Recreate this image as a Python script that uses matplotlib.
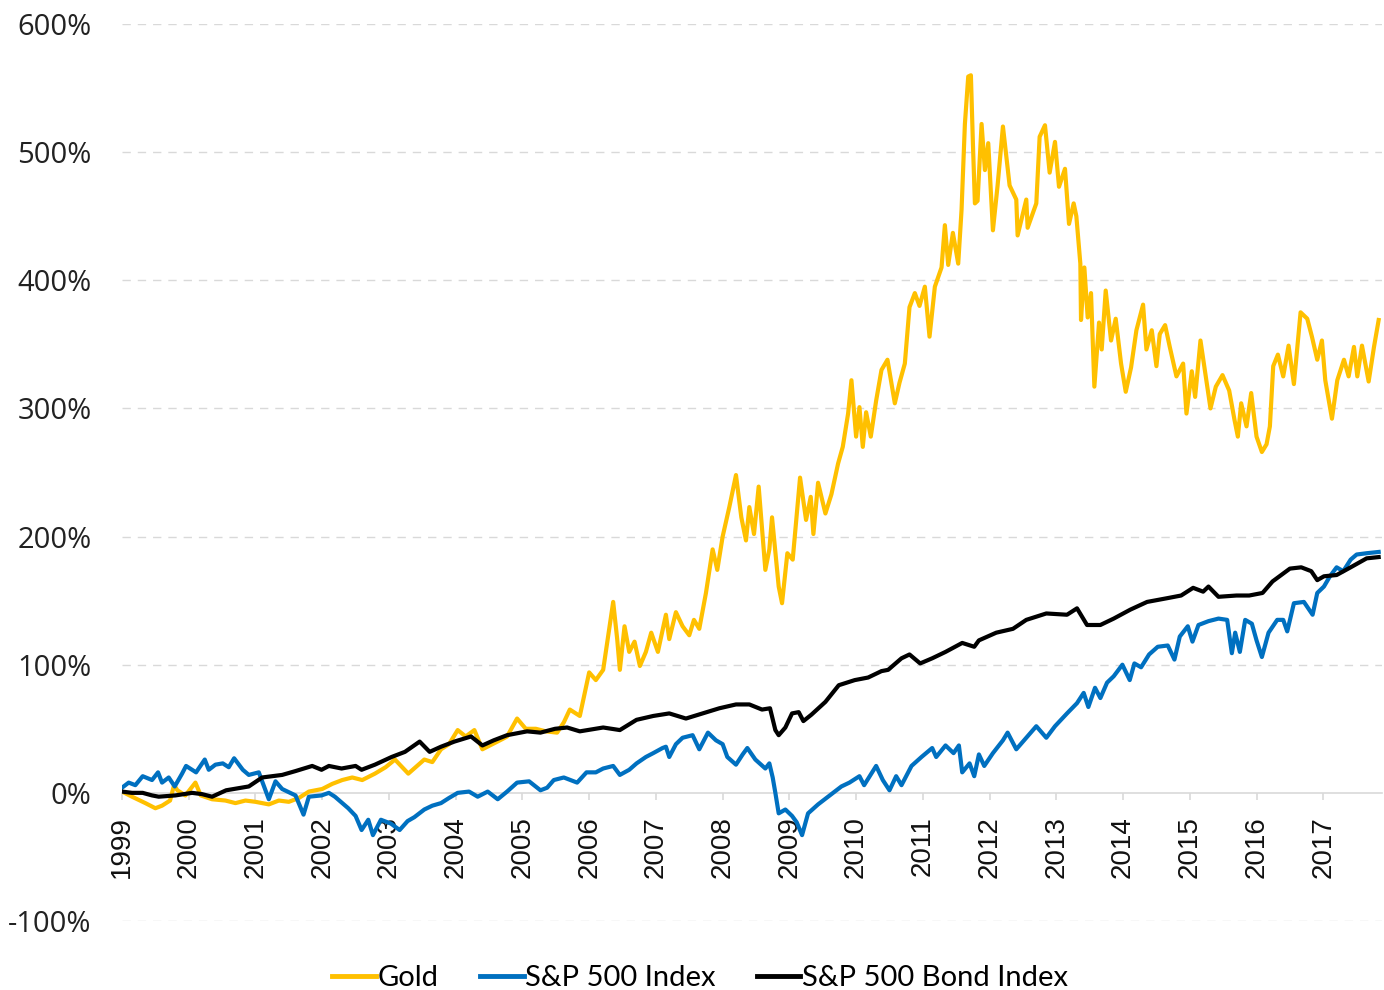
import matplotlib
matplotlib.use("Agg")
import matplotlib.pyplot as plt
from matplotlib.ticker import FuncFormatter, FixedLocator

# ---------------- data ----------------
gold_t = [1999.00, 1999.15, 1999.35, 1999.5, 1999.6, 1999.72, 1999.78, 1999.83, 1999.95, 2000.1,
          2000.18, 2000.35, 2000.55, 2000.7, 2000.85, 2001.0, 2001.2, 2001.35, 2001.5, 2001.65,
          2001.8, 2002.0, 2002.15, 2002.3, 2002.45, 2002.6, 2002.79, 2002.95, 2003.09, 2003.2,
          2003.29, 2003.4, 2003.53, 2003.65, 2003.78, 2003.9, 2004.03, 2004.15, 2004.28, 2004.4,
          2004.55, 2004.7, 2004.77, 2004.92, 2005.05, 2005.2, 2005.35, 2005.52, 2005.62, 2005.71,
          2005.86, 2006.0, 2006.1, 2006.21, 2006.36, 2006.42, 2006.46, 2006.53, 2006.6, 2006.68,
          2006.76, 2006.85, 2006.93, 2007.03, 2007.15, 2007.2, 2007.3, 2007.4, 2007.5, 2007.57,
          2007.65, 2007.75, 2007.85, 2007.92, 2008.0, 2008.1, 2008.2, 2008.28, 2008.35, 2008.4,
          2008.47, 2008.54, 2008.6, 2008.64, 2008.7, 2008.74, 2008.84, 2008.89, 2008.97, 2009.05,
          2009.16, 2009.25, 2009.32, 2009.36, 2009.43, 2009.54, 2009.63, 2009.73, 2009.8, 2009.88,
          2009.93, 2010.0, 2010.05, 2010.1, 2010.15, 2010.22, 2010.3, 2010.38, 2010.47, 2010.58,
          2010.65, 2010.73, 2010.8, 2010.88, 2010.95, 2011.03, 2011.1, 2011.18, 2011.28, 2011.33,
          2011.38, 2011.45, 2011.53, 2011.58, 2011.63, 2011.68, 2011.72, 2011.75, 2011.78, 2011.82,
          2011.88, 2011.93, 2011.98, 2012.05, 2012.12, 2012.2, 2012.3, 2012.4, 2012.42, 2012.55,
          2012.57, 2012.7, 2012.75, 2012.83, 2012.9, 2012.98, 2013.04, 2013.13, 2013.19, 2013.26,
          2013.3, 2013.36, 2013.37, 2013.42, 2013.47, 2013.52, 2013.57, 2013.64, 2013.68, 2013.74,
          2013.82, 2013.89, 2013.97, 2014.04, 2014.12, 2014.2, 2014.3, 2014.35, 2014.43, 2014.5,
          2014.55, 2014.63, 2014.7, 2014.8, 2014.9, 2014.95, 2015.03, 2015.08, 2015.16, 2015.24,
          2015.31, 2015.39, 2015.49, 2015.59, 2015.67, 2015.72, 2015.77, 2015.85, 2015.92, 2016.0,
          2016.08, 2016.15, 2016.2, 2016.25, 2016.32, 2016.4, 2016.48, 2016.56, 2016.66, 2016.76,
          2016.83, 2016.91, 2016.98, 2017.03, 2017.13, 2017.21, 2017.31, 2017.38, 2017.46, 2017.51,
          2017.58, 2017.68, 2017.76, 2017.83]
gold_v = [1, -3, -8, -12, -10, -6, 6, 2, -2, 8,
          -2, -5, -6, -8, -6, -7, -9, -6, -7, -4,
          1, 3, 7, 10, 12, 10, 15, 20, 26, 20,
          15, 20, 26, 24, 34, 38, 49, 44, 49, 34,
          38, 42, 44, 58, 50, 50, 48, 47, 55, 65,
          60, 94, 88, 96, 149, 120, 96, 130, 110, 118,
          99, 110, 125, 110, 139, 120, 141, 130, 123, 135,
          128, 156, 190, 174, 200, 223, 248, 215, 197, 223,
          202, 239, 200, 174, 190, 215, 161, 148, 187, 182,
          246, 213, 231, 202, 242, 218, 233, 257, 270, 296,
          322, 278, 301, 270, 297, 278, 306, 330, 338, 304,
          320, 335, 379, 390, 380, 395, 356, 395, 410, 443,
          412, 437, 413, 455, 522, 559, 560, 507, 460, 462,
          522, 486, 507, 439, 474, 520, 474, 463, 435, 463,
          441, 460, 512, 521, 484, 508, 473, 487, 444, 460,
          450, 413, 369, 410, 371, 390, 317, 367, 346, 392,
          353, 370, 335, 313, 332, 361, 381, 346, 361, 333,
          358, 365, 348, 325, 335, 296, 329, 309, 353, 325,
          300, 317, 326, 314, 291, 278, 304, 286, 312, 278,
          266, 272, 286, 333, 342, 325, 349, 319, 375, 370,
          356, 338, 353, 322, 292, 322, 338, 325, 348, 325,
          349, 321, 348, 369]

spx_t = [1999.0, 1999.1, 1999.2, 1999.31, 1999.45, 1999.54, 1999.6, 1999.7, 1999.79, 1999.9,
         1999.96, 2000.11, 2000.24, 2000.3, 2000.4, 2000.51, 2000.6, 2000.68, 2000.81, 2000.9,
         2001.05, 2001.2, 2001.3, 2001.4, 2001.6, 2001.72, 2001.8, 2001.99, 2002.1, 2002.19,
         2002.39, 2002.5, 2002.59, 2002.69, 2002.76, 2002.88, 2003.03, 2003.16, 2003.28, 2003.38,
         2003.53, 2003.65, 2003.78, 2003.9, 2004.03, 2004.2, 2004.33, 2004.48, 2004.63, 2004.77,
         2004.92, 2005.1, 2005.27, 2005.37, 2005.47, 2005.62, 2005.82, 2005.96, 2006.1, 2006.21,
         2006.36, 2006.46, 2006.6, 2006.71, 2006.85, 2006.96, 2007.1, 2007.15, 2007.2, 2007.3,
         2007.4, 2007.55, 2007.65, 2007.78, 2007.9, 2008.0, 2008.07, 2008.2, 2008.3, 2008.37,
         2008.49, 2008.64, 2008.7, 2008.75, 2008.79, 2008.84, 2008.94, 2009.04, 2009.11, 2009.19,
         2009.28, 2009.43, 2009.58, 2009.78, 2009.9, 2010.05, 2010.12, 2010.3, 2010.4, 2010.5,
         2010.6, 2010.68, 2010.83, 2010.98, 2011.14, 2011.2, 2011.34, 2011.46, 2011.54, 2011.59,
         2011.7, 2011.77, 2011.84, 2011.92, 2012.05, 2012.2, 2012.27, 2012.4, 2012.55, 2012.7,
         2012.85, 2012.98, 2013.16, 2013.31, 2013.41, 2013.48, 2013.58, 2013.66, 2013.76, 2013.86,
         2013.99, 2014.1, 2014.17, 2014.27, 2014.39, 2014.52, 2014.67, 2014.77, 2014.85, 2014.97,
         2015.04, 2015.13, 2015.28, 2015.43, 2015.56, 2015.63, 2015.68, 2015.75, 2015.83, 2015.93,
         2016.0, 2016.08, 2016.18, 2016.31, 2016.4, 2016.46, 2016.56, 2016.71, 2016.84, 2016.91,
         2017.01, 2017.1, 2017.2, 2017.3, 2017.41, 2017.5, 2017.65, 2017.83]
spx_v = [4, 8, 6, 13, 10, 16, 8, 12, 5, 15,
         21, 16, 26, 18, 22, 23, 20, 27, 18, 14,
         16, -5, 9, 3, -2, -17, -3, -2, 0, -3,
         -12, -18, -29, -21, -33, -21, -24, -29, -22, -19,
         -13, -10, -8, -4, 0, 1, -3, 1, -5, 1,
         8, 9, 2, 4, 10, 12, 8, 16, 16, 19,
         21, 14, 18, 23, 28, 31, 35, 36, 28, 38,
         43, 45, 34, 47, 41, 38, 28, 22, 30, 35,
         26, 19, 23, 12, 0, -16, -13, -18, -23, -33,
         -16, -9, -3, 5, 8, 13, 6, 21, 10, 2,
         13, 6, 21, 28, 35, 28, 37, 31, 37, 16,
         23, 13, 30, 21, 31, 41, 47, 34, 43, 52,
         43, 52, 62, 70, 78, 67, 82, 74, 86, 91,
         100, 88, 101, 98, 108, 114, 115, 104, 122, 130,
         118, 131, 134, 136, 135, 109, 125, 110, 135, 132,
         119, 106, 125, 135, 135, 126, 148, 149, 139, 156,
         161, 169, 176, 173, 182, 186, 187, 188]

bond_t = [1999.0, 1999.15, 1999.31, 1999.45, 1999.55, 1999.8, 2000.05, 2000.2, 2000.35, 2000.56,
          2000.9, 2001.1, 2001.4, 2001.6, 2001.85, 2001.99, 2002.1, 2002.29, 2002.5, 2002.59,
          2002.79, 2003.04, 2003.24, 2003.46, 2003.61, 2003.78, 2003.98, 2004.23, 2004.4, 2004.57,
          2004.77, 2005.07, 2005.27, 2005.49, 2005.67, 2005.86, 2006.21, 2006.46, 2006.71, 2006.96,
          2007.2, 2007.45, 2007.7, 2007.95, 2008.2, 2008.4, 2008.59, 2008.71, 2008.79, 2008.84,
          2008.94, 2009.04, 2009.14, 2009.21, 2009.33, 2009.54, 2009.74, 2009.98, 2010.18, 2010.38,
          2010.48, 2010.68, 2010.8, 2010.96, 2011.14, 2011.34, 2011.59, 2011.77, 2011.84, 2012.1,
          2012.35, 2012.55, 2012.85, 2013.16, 2013.31, 2013.46, 2013.66, 2013.86, 2014.11, 2014.36,
          2014.67, 2014.87, 2015.05, 2015.2, 2015.28, 2015.43, 2015.7, 2015.89, 2016.09, 2016.24,
          2016.5, 2016.67, 2016.82, 2016.91, 2017.01, 2017.2, 2017.41, 2017.65, 2017.83]
bond_v = [1, 0, 0, -2, -3, -2, 0, -1, -3, 2,
          5, 12, 14, 17, 21, 18, 21, 19, 21, 18,
          22, 28, 32, 40, 32, 36, 40, 44, 37, 41,
          45, 48, 47, 50, 51, 48, 51, 49, 57, 60,
          62, 58, 62, 66, 69, 69, 65, 66, 49, 45,
          51, 62, 63, 56, 61, 71, 84, 88, 90, 95,
          96, 105, 108, 101, 105, 110, 117, 114, 119, 125,
          128, 135, 140, 139, 144, 131, 131, 136, 143, 149,
          152, 154, 160, 157, 161, 153, 154, 154, 156, 165,
          175, 176, 173, 166, 169, 170, 176, 183, 184]

years = list(range(1999, 2018))
y_ticks = [-100, 0, 100, 200, 300, 400, 500, 600]
series_names = ["Gold", "S&P 500 Index", "S&P 500 Bond Index"]
colors = ["#FFC000", "#0070C0", "#000000"]

# ---------------- figure ----------------
fig = plt.figure(figsize=(13.84, 9.90), dpi=100)
ax = fig.add_axes([122 / 1384, 69 / 990, 1260 / 1384, 897 / 990])

for t, v, name, c in zip([gold_t, spx_t, bond_t], [gold_v, spx_v, bond_v], series_names, colors):
    ax.plot(t, v, color=c, lw=3.0, label=name, solid_joinstyle="round")

ax.set_xlim(1999, 2017.88)
ax.set_ylim(-100, 600)

# gridlines
for yv in y_ticks:
    if yv != 0:
        ax.axhline(yv, color="#D9D9D9", lw=1.0, ls=(0, (6, 5)), zorder=0)

ax.yaxis.set_major_locator(FixedLocator(y_ticks))
ax.yaxis.set_major_formatter(FuncFormatter(lambda v, p: f"{int(v)}%"))
ax.tick_params(axis="y", length=0, pad=22)
for lab in ax.get_yticklabels():
    lab.set_fontfamily("Open Sans")
    lab.set_fontsize(21)
    lab.set_color("#222222")

for s in ["top", "right", "left"]:
    ax.spines[s].set_visible(False)
ax.spines["bottom"].set_position(("data", 0))
ax.spines["bottom"].set_color("#D9D9D9")
ax.spines["bottom"].set_linewidth(1.2)
ax.spines["bottom"].set_zorder(0.5)

ax.xaxis.set_major_locator(FixedLocator(years))
ax.set_xticklabels([str(y) for y in years], rotation=90, fontsize=20,
                   fontfamily="Liberation Sans", color="#111111", va="top")
ax.tick_params(axis="x", length=5, width=1.2, color="#D9D9D9", pad=12)

leg = fig.legend(loc="lower center", bbox_to_anchor=(0.506, -0.028), ncol=3, frameon=False,
                 prop={"family": "Lato", "size": 21}, handlelength=1.5,
                 handletextpad=0.06, columnspacing=1.4)
for h in leg.get_lines():
    h.set_linewidth(3.5)

fig.savefig("out.png", dpi=100)
